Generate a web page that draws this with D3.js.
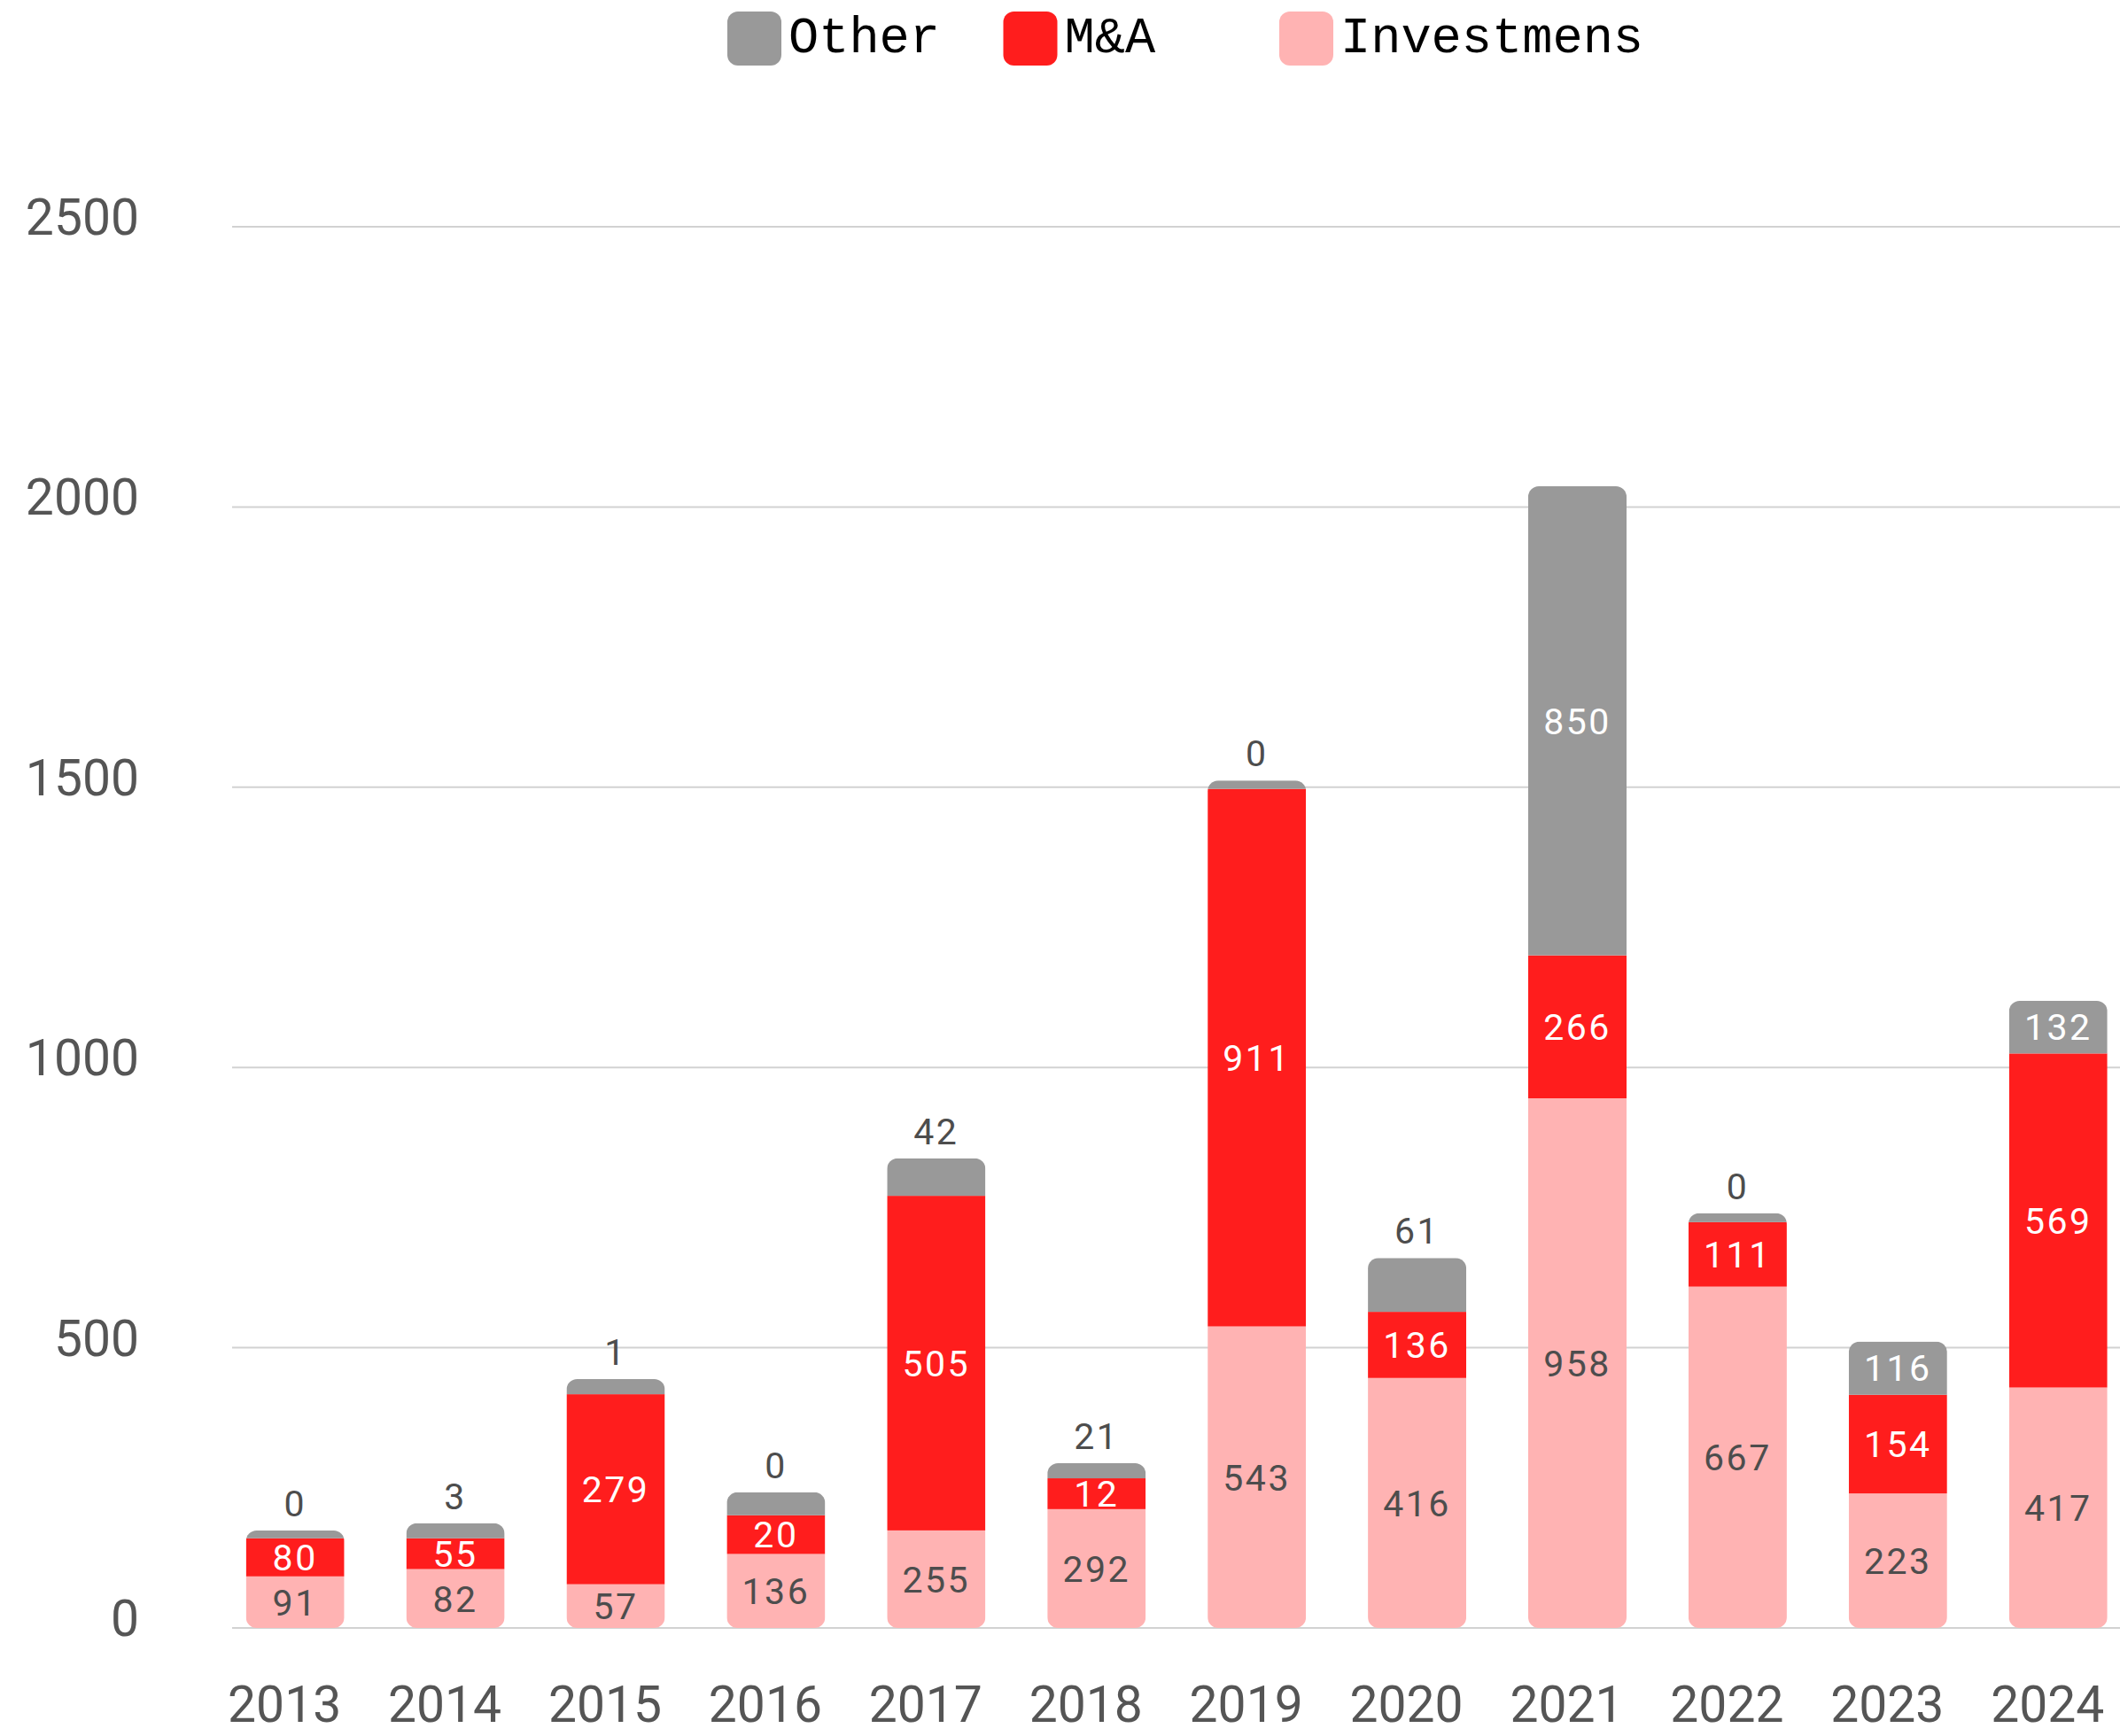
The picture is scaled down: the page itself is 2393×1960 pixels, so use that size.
<!DOCTYPE html>
<html>
<head>
<meta charset="utf-8">
<script src="https://cdn.jsdelivr.net/npm/d3@7"></script>
<style>
  body { margin: 0; background: #fff; }
  svg { display: block; }
  .axis-label { font-family: Roboto, sans-serif; font-size: 57px; fill: #555; }
  .val { font-family: Roboto, sans-serif; font-size: 41px; letter-spacing: 2.5px; }
  .legend-text { font-family: "Liberation Mono", monospace; font-size: 57px; fill: #000; }
</style>
</head>
<body>
<svg id="chart"></svg>
<script>
const years = ["2013", "2014", "2015", "2016", "2017", "2018", "2019", "2020", "2021", "2022", "2023", "2024"];

// heights of the stacked segments as drawn
const investments = [92, 105, 78, 132, 174, 212, 538, 446, 945, 609, 240, 429];
const mna = [68, 55, 339, 69, 597, 55, 959, 118, 255, 115, 176, 596];
const other = [14, 27, 27, 41, 67, 27, 15, 96, 837, 16, 95, 94];

// numbers printed on the segments
const investLabels = [91, 82, 57, 136, 255, 292, 543, 416, 958, 667, 223, 417];
const mnaLabels = [80, 55, 279, 20, 505, 12, 911, 136, 266, 111, 154, 569];
const otherLabels = [0, 3, 1, 0, 42, 21, 0, 61, 850, 0, 116, 132];

const yTicks = [0, 500, 1000, 1500, 2000, 2500];
const legendNames = ["Other", "M&A", "Investmens"];

const width = 2393, height = 1960;
const colors = { inv: "#ffb3b3", ma: "#ff1d1d", other: "#999999" };
const darkText = "#4d4d4d";

const svg = d3.select("#chart")
    .attr("width", width)
    .attr("height", height);

const x = d3.scaleBand()
    .domain(years)
    .range([242.7, 2413.7])
    .paddingInner(0.3864)
    .paddingOuter(0.1932);

const y = d3.scaleLinear()
    .domain([0, 2500])
    .range([1838, 256]);

// grid
svg.append("g")
  .selectAll("line")
  .data(yTicks)
  .join("line")
    .attr("x1", 262)
    .attr("x2", width)
    .attr("y1", d => y(d))
    .attr("y2", d => y(d))
    .attr("stroke", "#d2d2d2")
    .attr("stroke-width", 2);

svg.append("g")
  .selectAll("text")
  .data(yTicks)
  .join("text")
    .attr("class", "axis-label")
    .attr("x", 157)
    .attr("y", d => y(d) + 9)
    .attr("text-anchor", "end")
    .text(d => d);

// stacked bars
const rows = years.map((yr, i) => ({ year: yr, inv: investments[i], ma: mna[i], other: other[i] }));
const keys = ["inv", "ma", "other"];
const labelsByKey = { inv: investLabels, ma: mnaLabels, other: otherLabels };
const series = d3.stack().keys(keys)(rows);
const bw = x.bandwidth();

const defs = svg.append("defs");
rows.forEach((r, i) => {
  const total = r.inv + r.ma + r.other;
  defs.append("clipPath")
      .attr("id", "clip-" + i)
    .append("rect")
      .attr("x", x(r.year))
      .attr("y", y(total))
      .attr("width", bw)
      .attr("height", y(0) - y(total))
      .attr("rx", 12);
});

const barG = svg.append("g");
series.forEach(s => {
  barG.append("g")
    .selectAll("rect")
    .data(s)
    .join("rect")
      .attr("clip-path", (d, i) => "url(#clip-" + i + ")")
      .attr("x", d => x(d.data.year))
      .attr("y", d => y(d[1]))
      .attr("width", bw)
      .attr("height", d => y(d[0]) - y(d[1]))
      .attr("fill", colors[s.key]);
});

// value labels
const labG = svg.append("g");
series.forEach(s => {
  const labs = labelsByKey[s.key];
  s.forEach((d, i) => {
    const cx = x(d.data.year) + bw / 2;
    let cy, fill, dy = "0.36em";
    if (s.key === "other" && y(0) - y(labs[i]) < 50) {
      cy = y(d[1]) - 16;
      fill = darkText;
      dy = "0";
    } else {
      cy = (y(d[0]) + y(d[1])) / 2;
      fill = s.key === "inv" ? darkText : "#fff";
    }
    labG.append("text")
      .attr("class", "val")
      .attr("x", cx)
      .attr("y", cy)
      .attr("dy", dy)
      .attr("text-anchor", "middle")
      .attr("fill", fill)
      .text(labs[i]);
  });
});

// x labels
svg.append("g")
  .selectAll("text")
  .data(years)
  .join("text")
    .attr("class", "axis-label")
    .attr("x", d => x(d) + bw / 2 - 12)
    .attr("y", y(0) + 106)
    .attr("text-anchor", "middle")
    .text(d => d)
    .each(function() {
      const w = this.getComputedTextLength();
      const cx = +this.getAttribute("x");
      if (cx + w / 2 > 2385) d3.select(this).attr("x", 2385 - w / 2);
    });

// legend
const legendColors = [colors.other, colors.ma, colors.inv];
const lg = svg.append("g")
  .selectAll("g")
  .data(legendNames)
  .join("g")
    .attr("transform", (d, i) => "translate(" + (821 + i * 311.5) + ",13)");
lg.append("rect")
    .attr("width", 61)
    .attr("height", 61)
    .attr("rx", 12)
    .attr("fill", (d, i) => legendColors[i]);
lg.append("text")
    .attr("class", "legend-text")
    .attr("x", 69)
    .attr("y", 46)
    .text(d => d);
</script>
</body>
</html>
